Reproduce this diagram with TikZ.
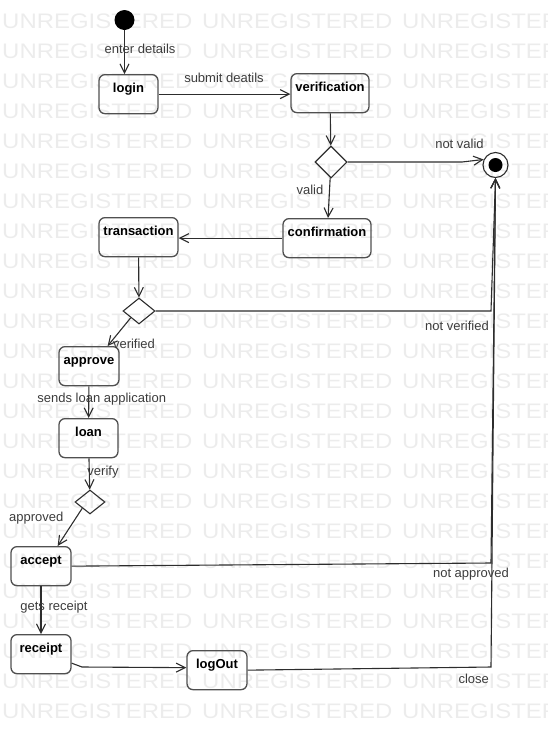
\documentclass[tikz,border=0pt]{standalone}
\usepackage{fontspec}
\setmainfont{Liberation Sans}
\usetikzlibrary{arrows.meta,shapes.geometric}

\definecolor{wmgray}{RGB}{236,236,236}
\definecolor{linegray}{RGB}{45,45,45}
\definecolor{boxgray}{RGB}{80,80,80}
\definecolor{labelgray}{RGB}{60,60,60}

\begin{document}
\begin{tikzpicture}[x=1pt,y=-1pt,
  wm/.style={anchor=west, inner sep=0pt, text=wmgray,
    font=\fontsize{21}{21}\selectfont, xscale=1.14},
  state/.style={draw=boxgray, line width=1.3pt, rounded corners=6pt,
    inner xsep=0pt, inner ysep=0pt, text height=17.5pt, text depth=21.5pt,
    anchor=north, text=black, font=\fontsize{13}{15}\selectfont\bfseries},
  decision/.style={diamond, draw=linegray, line width=1.1pt, inner sep=0pt},
  flow/.style={draw=linegray, line width=1.1pt,
    -{Straight Barb[length=9pt,width=9pt,line width=1.1pt]}},
  guard/.style={inner sep=0pt, text=labelgray, font=\fontsize{13}{15}\selectfont}]

\useasboundingbox (0,0) rectangle (548,729);
\clip (0,0) rectangle (548,729);

% background lettering
\foreach \r in {0,...,23}{
  \foreach \c in {0,1,2}{
    \node[wm] (wm-\r-\c) at ({2+200*\c},{21+30*\r}) {UNREGISTERED};
  }
}

% pseudo states
\node[circle, fill=black, minimum size=20pt, inner sep=0pt] (init) at (124.5,20) {};
\node[circle, draw=linegray, line width=1.1pt, minimum size=25pt, inner sep=0pt] (final) at (495.5,165) {};
\node[circle, fill=black, minimum size=14pt, inner sep=0pt] (finaldot) at (final) {};

% states
\node[state, minimum width=59pt] (login)   at (128.5,74) {login};
\node[state, minimum width=78pt] (verif)   at (330,73)   {verification};
\node[state, minimum width=79pt] (trans)   at (138.5,217) {transaction};
\node[state, minimum width=88pt] (conf)    at (327,218)  {confirmation};
\node[state, minimum width=60pt] (approve) at (89,346)   {approve};
\node[state, minimum width=59pt] (loan)    at (88.5,418) {loan};
\node[state, minimum width=60pt] (accept)  at (41,546)   {accept};
\node[state, minimum width=60pt] (receipt) at (41,634)   {receipt};
\node[state, minimum width=60pt] (logout)  at (217,650)  {logOut};

% decisions
\node[decision, minimum width=32pt, minimum height=32pt] (d1) at (331,162) {};
\node[decision, minimum width=32pt, minimum height=26pt] (d2) at (139,311) {};
\node[decision, minimum width=30pt, minimum height=24pt] (d3) at (90,502) {};

% transitions
\draw[flow] (init) -- (init |- login.north);
\draw[flow] (login.east) -- (login.east -| verif.west);
\draw[flow] (verif) -- (d1);
\draw[flow] (d1.east) -- (462,162) -- (final.155);
\draw[flow] (d1) -- (conf);
\draw[flow] (conf.west) -- (conf.west -| trans.east);
\draw[flow] (trans) -- (d2);
\draw[flow] (d2.east) -- (491,311) -- (final.south);
\draw[flow] (d2.south west) -- ([xshift=-12pt]approve.north east);
\draw[flow] (approve) -- (loan);
\draw[flow] (loan) -- (d3);
\draw[flow] (d3.south west) -- ([xshift=-14pt]accept.north east);
\draw[flow] (accept.east) -- (491,563) -- (final.south);
\draw[flow] (accept) -- (receipt);
\draw[flow] ([yshift=-9pt]receipt.east) -- (82,667) -- ([yshift=2.5pt]logout.west);
\draw[flow] (logout.east) -- (491,667) -- (final.south);

% transition labels
\node[guard] (g-enter)    at (140,49)    {enter details};
\node[guard] (g-submit)   at (224,78)    {submit deatils};
\node[guard] (g-notvalid) at (459.5,144) {not valid};
\node[guard] (g-valid)    at (310,190)   {valid};
\node[guard] (g-verified) at (134,343.5) {verified};
\node[guard] (g-notver)   at (457,325.5) {not verified};
\node[guard] (g-sends)    at (101.7,399) {sends loan application};
\node[guard] (g-verify)   at (103,472)   {verify};
\node[guard] (g-approved) at (36.3,518.5) {approved};
\node[guard] (g-receipt)  at (54,607.5)  {gets receipt};
\node[guard] (g-notappr)  at (471,574.5) {not approved};
\node[guard] (g-close)    at (473.7,678.5) {close};
\end{tikzpicture}
\end{document}
